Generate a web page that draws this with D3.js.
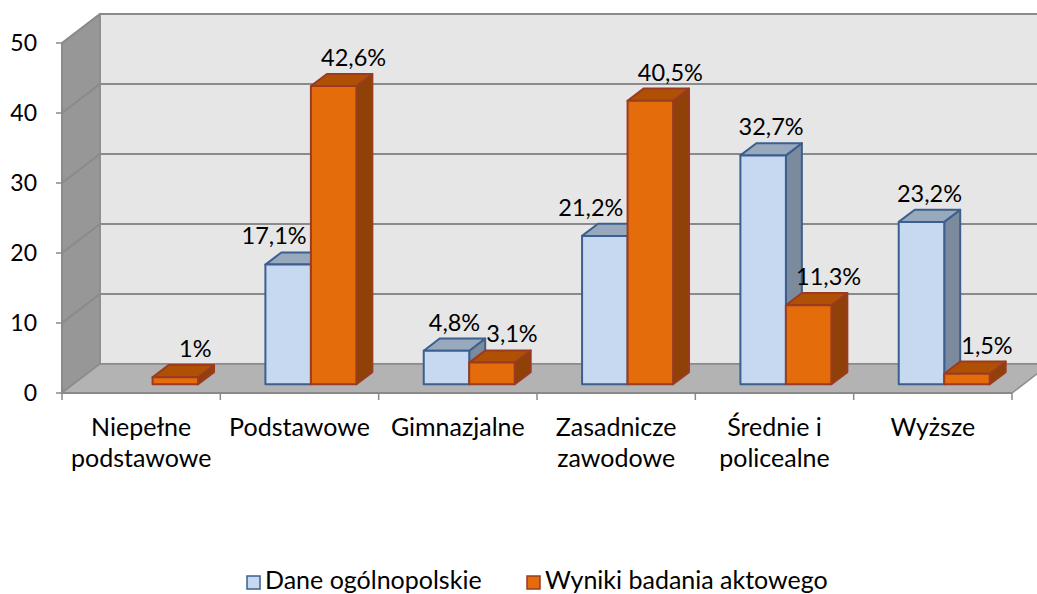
<!DOCTYPE html>
<html>
<head>
<meta charset="utf-8">
<script src="https://cdn.jsdelivr.net/npm/d3@7"></script>
<style>
  html, body { margin: 0; padding: 0; background: #fff; }
  svg { display: block; font-family: Lato, "Noto Sans", sans-serif; }
</style>
</head>
<body>
<svg id="chart" width="1037" height="594"></svg>
<script>
const categories = ["Niepełne\npodstawowe", "Podstawowe", "Gimnazjalne", "Zasadnicze\nzawodowe", "Średnie i\npolicealne", "Wyższe"];
const seriesNames = ["Dane ogólnopolskie", "Wyniki badania aktowego"];
const daneOgolnopolskie = [null, 17.1, 4.8, 21.2, 32.7, 23.2];
const wynikiBadania = [1, 42.6, 3.1, 40.5, 11.3, 1.5];
const yTicks = [0, 10, 20, 30, 40, 50];

const W = 1037, H = 594;
const svg = d3.select("#chart");

// 3D depth offsets (full depth)
const DX = 38, DY = -29;
const Z0 = 0.3, Z1 = 0.72;

const x = d3.scaleBand().domain(d3.range(categories.length)).range([62, 1012]).padding(0);
const xs = d3.scaleBand().domain([0, 1]).range([0, x.bandwidth()]).paddingInner(0).paddingOuter(0.74);
const y = d3.scaleLinear().domain([0, 50]).range([393, 43]);

const P = (px, v, z) => [px + z * DX, y(v) + z * DY];
const poly = pts => "M" + pts.map(p => p.join(",")).join("L") + "Z";

const x0 = x.range()[0], x1 = x.range()[1];

// Walls
const g = svg.append("g");
g.append("path").attr("d", poly([P(x0, 0, 1), P(x1, 0, 1), P(x1, 50, 1), P(x0, 50, 1)]))
  .attr("fill", "#e6e6e6").attr("stroke", "#8c8c8c").attr("stroke-width", 1.5);
g.append("path").attr("d", poly([P(x0, 0, 0), P(x0, 0, 1), P(x0, 50, 1), P(x0, 50, 0)]))
  .attr("fill", "#979797").attr("stroke", "#8c8c8c").attr("stroke-width", 1.5);
yTicks.forEach(t => {
  g.append("path").attr("d", "M" + P(x0, t, 0).join(",") + "L" + P(x0, t, 1).join(",") + "L" + P(x1 + 40, t, 1).join(","))
    .attr("fill", "none").attr("stroke", "#8a8a8a").attr("stroke-width", 2);
});
g.append("path").attr("d", poly([P(x0, 0, 0), P(x1, 0, 0), P(x1, 0, 1), P(x0, 0, 1)]))
  .attr("fill", "#b3b3b3").attr("stroke", "#8c8c8c").attr("stroke-width", 1.5);

// axes lines and ticks
g.append("line").attr("x1", x0).attr("x2", x0).attr("y1", y(0)).attr("y2", y(50))
  .attr("stroke", "#8a8a8a").attr("stroke-width", 2);
g.append("line").attr("x1", x0).attr("x2", x1).attr("y1", y(0)).attr("y2", y(0))
  .attr("stroke", "#8a8a8a").attr("stroke-width", 2);
yTicks.forEach(t => {
  g.append("line").attr("x1", x0 - 6).attr("x2", x0).attr("y1", y(t)).attr("y2", y(t))
    .attr("stroke", "#8a8a8a").attr("stroke-width", 1.5);
  g.append("text").attr("x", 37).attr("y", y(t)).attr("dy", "0.36em")
    .attr("text-anchor", "end").attr("font-size", 23).attr("fill", "#000").text(t);
});
d3.range(categories.length + 1).forEach(i => {
  const px = i < categories.length ? x(i) : x1;
  g.append("line").attr("x1", px).attr("x2", px).attr("y1", y(0)).attr("y2", y(0) + 7)
    .attr("stroke", "#8a8a8a").attr("stroke-width", 1.5);
});
categories.forEach((c, i) => {
  const t = g.append("text").attr("x", x(i) + x.bandwidth() / 2).attr("y", 436)
    .attr("text-anchor", "middle").attr("font-size", 25).attr("fill", "#000");
  c.split("\n").forEach((line, k) => {
    t.append("tspan").attr("x", x(i) + x.bandwidth() / 2).attr("dy", k === 0 ? 0 : 31).text(line);
  });
});

// Bars
const styles = [
  { front: "#c6d9f1", top: "#99a9bd", side: "#7b8a9c", stroke: "#3b5f8e" },
  { front: "#e46c0a", top: "#b05005", side: "#8f4107", stroke: "#9a3b22" }
];
const series = [daneOgolnopolskie, wynikiBadania];
const bars = svg.append("g");
categories.forEach((c, i) => {
  series.forEach((vals, s) => {
    const v = vals[i];
    if (v == null) return;
    const a = x(i) + xs(s), b = a + xs.bandwidth();
    const st = styles[s];
    const gg = bars.append("g").attr("stroke", st.stroke).attr("stroke-width", 2).attr("stroke-linejoin", "round");
    gg.append("path").attr("d", poly([P(b, 0, Z0), P(b, 0, Z1), P(b, v, Z1), P(b, v, Z0)])).attr("fill", st.side);
    gg.append("path").attr("d", poly([P(a, v, Z0), P(b, v, Z0), P(b, v, Z1), P(a, v, Z1)])).attr("fill", st.top);
    gg.append("path").attr("d", poly([P(a, 0, Z0), P(b, 0, Z0), P(b, v, Z0), P(a, v, Z0)])).attr("fill", st.front);
  });
});

// Value labels
const labels = svg.append("g");
const fmt = v => String(v).replace(".", ",") + "%";
categories.forEach((c, i) => {
  series.forEach((vals, s) => {
    const v = vals[i];
    if (v == null) return;
    const a = x(i) + xs(s), b = a + xs.bandwidth();
    const cx = (a + b) / 2 + Z0 * DX;
    let off;
    if (s === 1) off = 20;
    else {
      const other = series[1][i];
      off = (other != null && other > v) ? -14 : 8;
    }
    const topBackY = y(v) + Z1 * DY;
    labels.append("text").attr("x", cx + off).attr("y", topBackY - 8)
      .attr("text-anchor", "middle").attr("font-size", 23.5).attr("fill", "#000").text(fmt(v));
  });
});

// Legend
const legend = svg.append("g");
const legendX = [247, 527];
seriesNames.forEach((n, s) => {
  legend.append("rect").attr("x", legendX[s]).attr("y", 576).attr("width", 13).attr("height", 13)
    .attr("fill", styles[s].front).attr("stroke", styles[s].stroke).attr("stroke-width", 1.5);
  legend.append("text").attr("x", legendX[s] + 18).attr("y", 589)
    .attr("font-size", 25).attr("fill", "#000").text(n);
});
</script>
</body>
</html>
